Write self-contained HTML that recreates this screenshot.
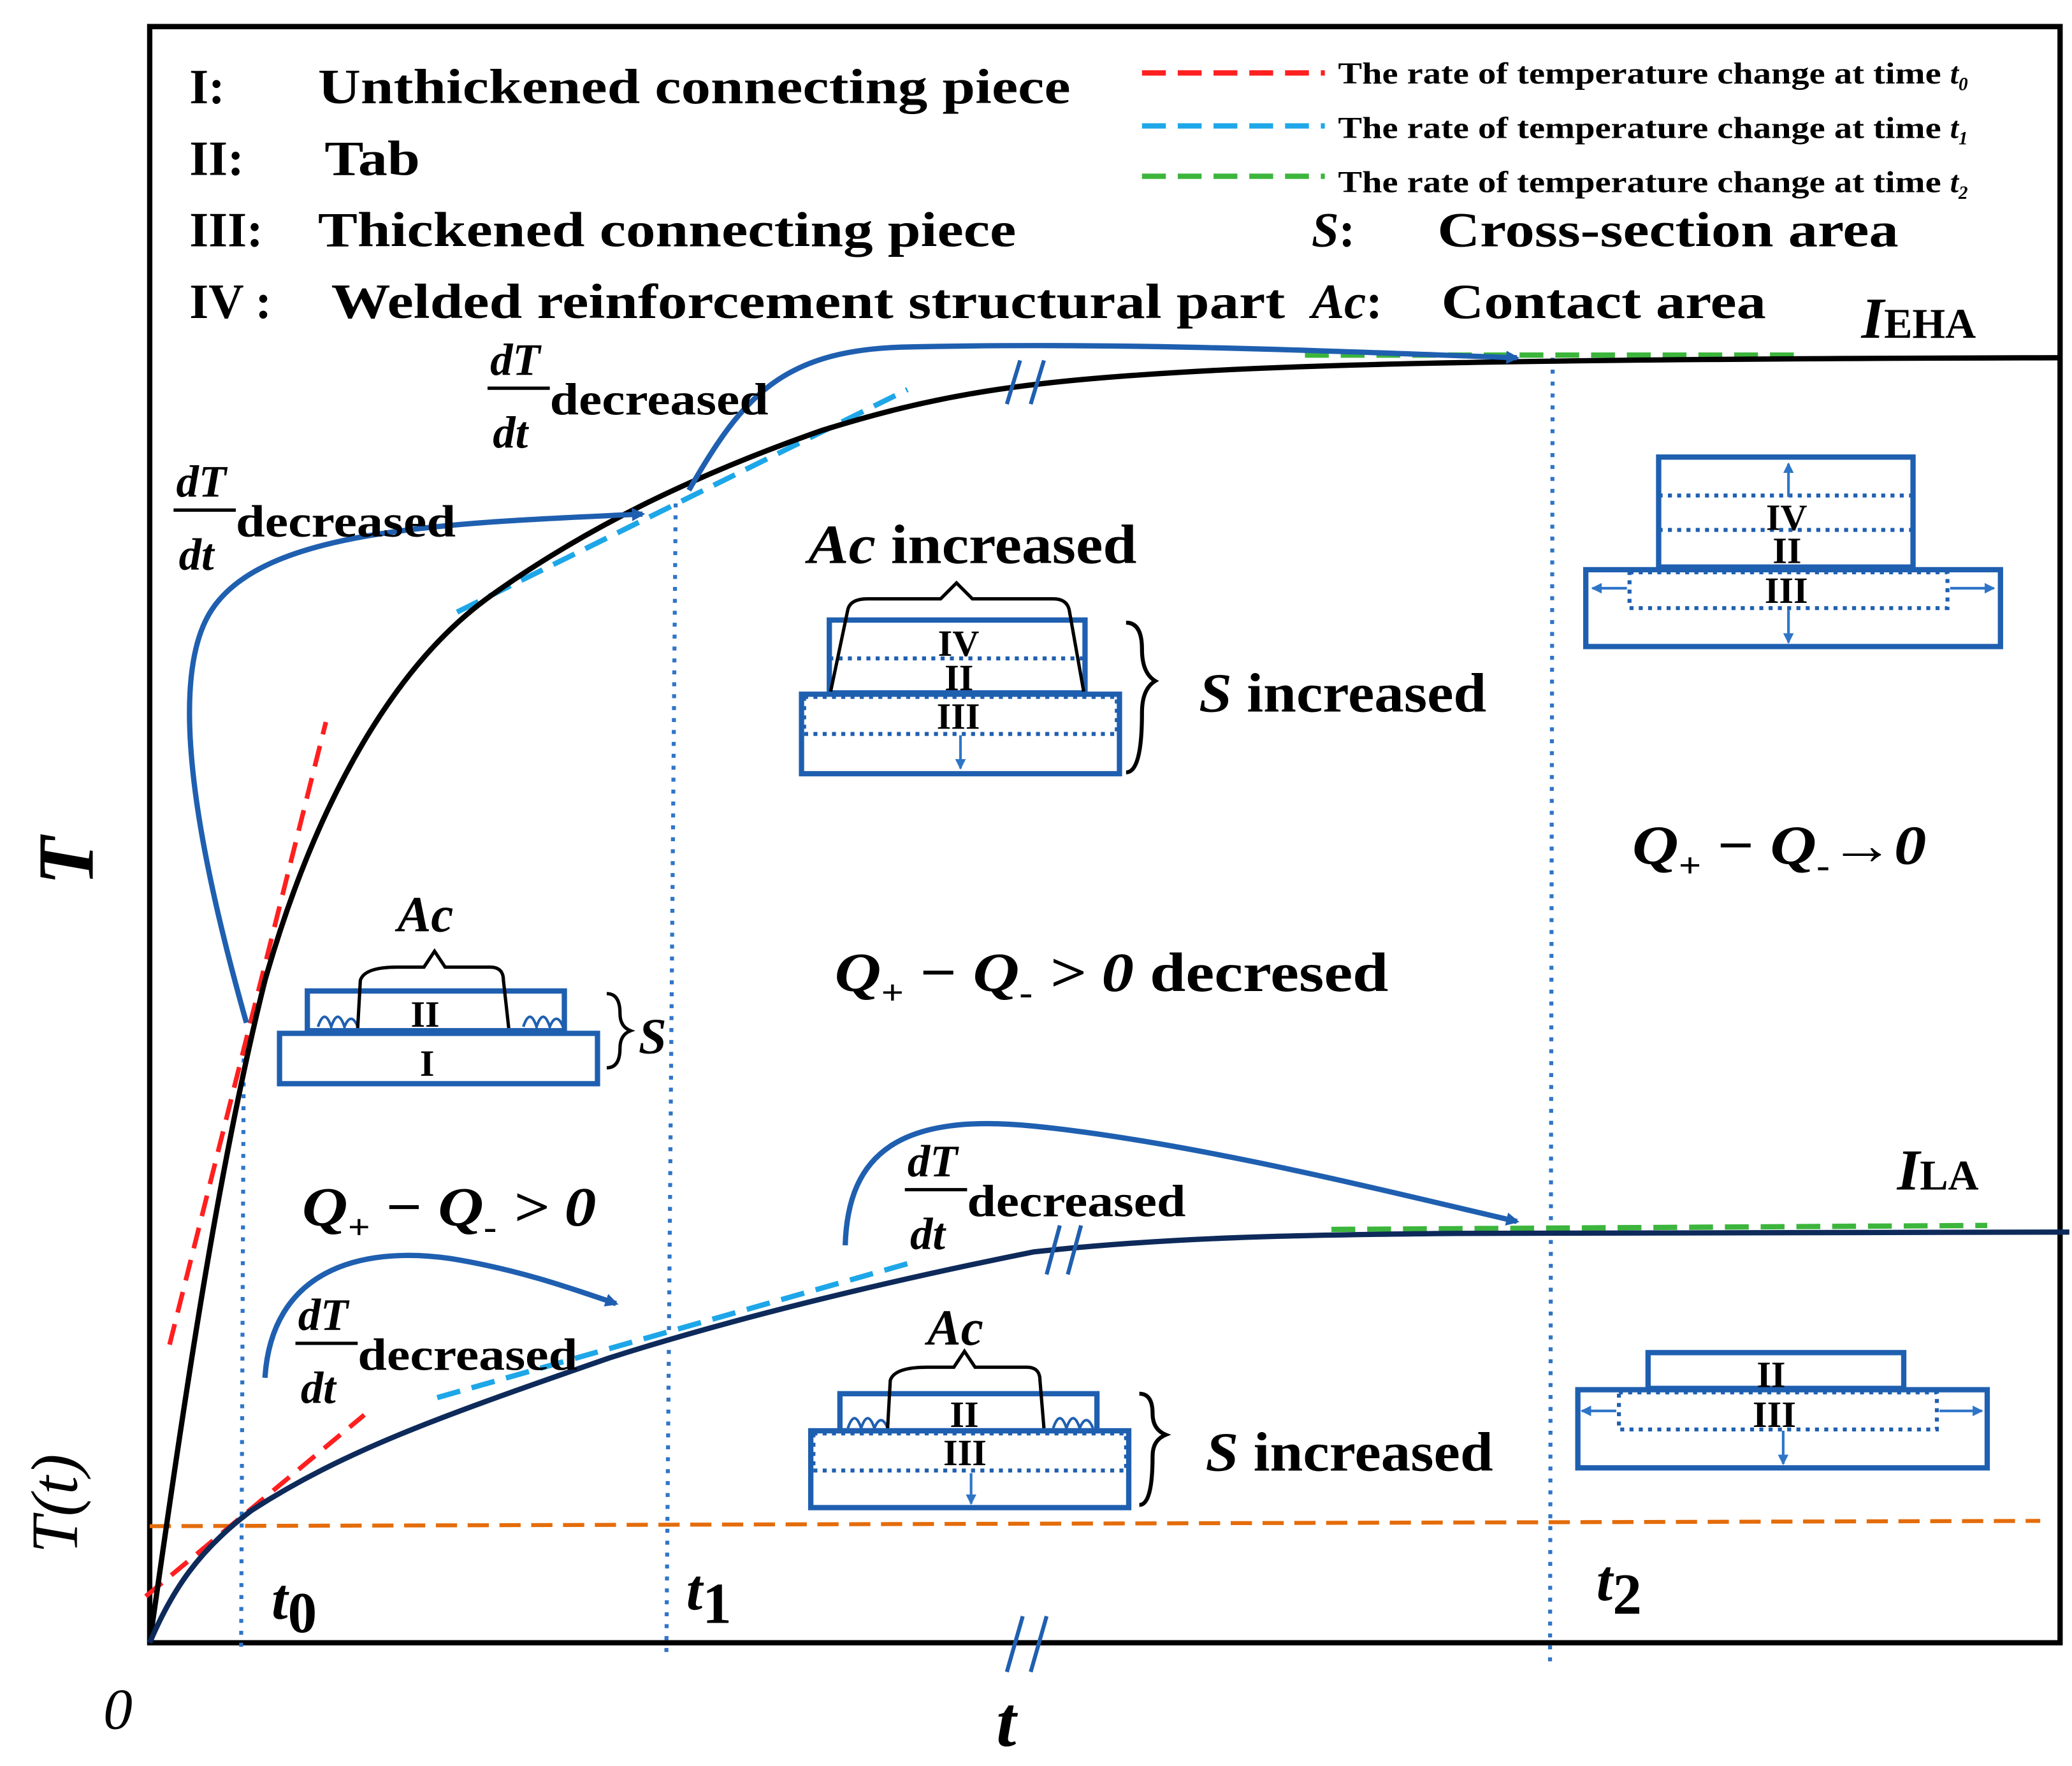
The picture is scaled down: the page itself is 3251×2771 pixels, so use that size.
<!DOCTYPE html>
<html><head><meta charset="utf-8"><style>
html,body{margin:0;padding:0;background:#fff}
svg{display:block}
text{font-family:"Liberation Serif",serif;font-weight:bold}
text.n{font-weight:normal}
</style></head><body>
<svg width="3251" height="2771" viewBox="0 0 1564 1333" xmlns="http://www.w3.org/2000/svg">
<defs>
<marker id="ah" markerWidth="10" markerHeight="10" refX="8" refY="5" orient="auto" markerUnits="userSpaceOnUse"><path d="M0,0 L10,5 L0,10 z" fill="#1f5fb0"/></marker>
<marker id="sa" markerWidth="8" markerHeight="8" refX="7" refY="4" orient="auto" markerUnits="userSpaceOnUse"><path d="M0,0 L8,4 L0,8 z" fill="#2e75c8"/></marker>
</defs>
<rect width="1564" height="1333" fill="#fff"/>
<path d="M113,20 L1555,20 L1555,1240 L113,1240 Z" fill="none" stroke="#000" stroke-width="4"/>
<line x1="113" y1="1152" x2="1540" y2="1148" stroke="#e46c0a" stroke-width="3" stroke-dasharray="16,8"/>
<g stroke="#2e75c8" stroke-width="3" stroke-dasharray="3,6">
<line x1="184" y1="790" x2="182" y2="1248"/>
<line x1="510" y1="380" x2="503" y2="1248"/>
<line x1="1172" y1="270" x2="1170" y2="1255"/>
</g>
<g stroke="#ff1f1f" stroke-width="3.5" stroke-dasharray="16,9" fill="none">
<line x1="128" y1="1015" x2="246" y2="545"/>
<line x1="110" y1="1205" x2="275" y2="1068"/>
</g>
<g stroke="#1ea7e8" stroke-width="4" stroke-dasharray="18,9">
<line x1="345" y1="462" x2="685" y2="294"/>
<line x1="330" y1="1055" x2="688" y2="953"/>
</g>
<g stroke="#3cb53c" stroke-width="4" stroke-dasharray="18,9">
<line x1="985" y1="268" x2="1362" y2="268"/>
<line x1="1005" y1="928" x2="1500" y2="925"/>
</g>
<path d="M113,1240 C140,1050 165,880 200,740 C240,600 300,500 370,450 C440,400 520,360 620,325 C700,300 760,290 860,283 C960,276 1100,271 1555,270" fill="none" stroke="#000" stroke-width="4"/>
<path d="M113,1240 C130,1200 150,1170 190,1140 C260,1095 330,1070 460,1025 C560,993 680,965 780,945 C880,934 980,932 1100,931 L1562,930" fill="none" stroke="#0d2a5a" stroke-width="4"/>
<g stroke="#1f5fb0" stroke-width="3">
<line x1="760" y1="305" x2="770" y2="272"/><line x1="778" y1="305" x2="788" y2="272"/>
<line x1="790" y1="962" x2="800" y2="925"/><line x1="806" y1="962" x2="816" y2="925"/>
<line x1="760" y1="1262" x2="772" y2="1220"/><line x1="778" y1="1262" x2="790" y2="1220"/>
</g>
<g stroke="#1f5fb0" stroke-width="4" fill="none" marker-end="url(#ah)">
<path d="M186,772 C160,680 120,520 160,460 C200,400 330,395 485,388"/>
<path d="M520,370 C560,300 590,265 680,262 C850,258 1000,265 1145,270"/>
<path d="M638,940 C640,870 680,840 780,850 C900,862 1050,900 1145,922"/>
<path d="M200,1040 C205,960 270,940 340,950 C390,958 430,972 465,984"/>
</g>
<g font-size="37" fill="#000">
<text x="143" y="78">I:</text><text x="240" y="78" textLength="568" lengthAdjust="spacingAndGlyphs">Unthickened connecting piece</text>
<text x="143" y="132">II:</text><text x="245" y="132" textLength="72" lengthAdjust="spacingAndGlyphs">Tab</text>
<text x="143" y="186">III:</text><text x="240" y="186" textLength="527" lengthAdjust="spacingAndGlyphs">Thickened connecting piece</text>
<text x="143" y="240">IV :</text><text x="250" y="240" textLength="720" lengthAdjust="spacingAndGlyphs">Welded reinforcement structural part</text>
<text x="990" y="186"><tspan font-style="italic">S</tspan>:</text><text x="1085" y="186" textLength="348" lengthAdjust="spacingAndGlyphs">Cross-section area</text>
<text x="990" y="240"><tspan font-style="italic">Ac</tspan>:</text><text x="1088" y="240" textLength="245" lengthAdjust="spacingAndGlyphs">Contact area</text>
</g>
<g stroke-width="4" stroke-dasharray="18,9">
<line x1="862" y1="55" x2="1000" y2="55" stroke="#ff1f1f"/>
<line x1="862" y1="95" x2="1000" y2="95" stroke="#1ea7e8"/>
<line x1="862" y1="133" x2="1000" y2="133" stroke="#3cb53c"/>
</g>
<g font-size="23" fill="#000">
<text x="1010" y="63"><tspan textLength="462" lengthAdjust="spacingAndGlyphs">The rate of temperature change at time </tspan><tspan font-style="italic">t</tspan><tspan font-size="14" font-style="italic" dy="5">0</tspan></text>
<text x="1010" y="104"><tspan textLength="462" lengthAdjust="spacingAndGlyphs">The rate of temperature change at time </tspan><tspan font-style="italic">t</tspan><tspan font-size="14" font-style="italic" dy="5">1</tspan></text>
<text x="1010" y="145"><tspan textLength="462" lengthAdjust="spacingAndGlyphs">The rate of temperature change at time </tspan><tspan font-style="italic">t</tspan><tspan font-size="14" font-style="italic" dy="5">2</tspan></text>
</g>
<text x="1405" y="255" font-size="44" font-style="italic">I<tspan font-size="32" font-style="normal">EHA</tspan></text>
<text x="1432" y="898" font-size="44" font-style="italic">I<tspan font-size="32" font-style="normal">LA</tspan></text>
<g font-size="34">
<text x="370" y="283" font-style="italic">dT</text><line x1="368" y1="293" x2="415" y2="293" stroke="#000" stroke-width="2.5"/><text x="372" y="338" font-style="italic">dt</text><text x="415" y="313" textLength="165" lengthAdjust="spacingAndGlyphs">decreased</text>
<text x="133" y="375" font-style="italic">dT</text><line x1="131" y1="385" x2="178" y2="385" stroke="#000" stroke-width="2.5"/><text x="135" y="430" font-style="italic">dt</text><text x="178" y="405" textLength="166" lengthAdjust="spacingAndGlyphs">decreased</text>
<text x="685" y="888" font-style="italic">dT</text><line x1="683" y1="898" x2="730" y2="898" stroke="#000" stroke-width="2.5"/><text x="687" y="943" font-style="italic">dt</text><text x="730" y="918" textLength="165" lengthAdjust="spacingAndGlyphs">decreased</text>
<text x="225" y="1004" font-style="italic">dT</text><line x1="223" y1="1014" x2="270" y2="1014" stroke="#000" stroke-width="2.5"/><text x="227" y="1059" font-style="italic">dt</text><text x="270" y="1034" textLength="166" lengthAdjust="spacingAndGlyphs">decreased</text>
</g>
<g font-size="42">
<text x="630" y="748" textLength="418" lengthAdjust="spacingAndGlyphs"><tspan font-style="italic">Q</tspan><tspan font-size="26" dy="10">+</tspan><tspan dy="-10"> − </tspan><tspan font-style="italic">Q</tspan><tspan font-size="26" dy="10">-</tspan><tspan dy="-10" font-style="italic"> &gt; 0</tspan> decresed</text>
<text x="1232" y="652" textLength="222" lengthAdjust="spacingAndGlyphs"><tspan font-style="italic">Q</tspan><tspan font-size="26" dy="10">+</tspan><tspan dy="-10"> − </tspan><tspan font-style="italic">Q</tspan><tspan font-size="26" dy="10">-</tspan><tspan dy="-10" font-style="italic">→0</tspan></text>
<text x="228" y="925" textLength="222" lengthAdjust="spacingAndGlyphs"><tspan font-style="italic">Q</tspan><tspan font-size="26" dy="10">+</tspan><tspan dy="-10"> − </tspan><tspan font-style="italic">Q</tspan><tspan font-size="26" dy="10">-</tspan><tspan dy="-10" font-style="italic"> &gt; 0</tspan></text>
<text x="610" y="425" textLength="248" lengthAdjust="spacingAndGlyphs"><tspan font-style="italic">Ac</tspan> increased</text>
<text x="905" y="537" textLength="217" lengthAdjust="spacingAndGlyphs"><tspan font-style="italic">S</tspan> increased</text>
<text x="910" y="1110" textLength="217" lengthAdjust="spacingAndGlyphs"><tspan font-style="italic">S</tspan> increased</text>
</g>
<text x="70" y="650" font-size="60" font-style="italic" transform="rotate(-90 70 650)" text-anchor="middle">T</text>
<text class="n" x="58" y="1135" font-size="50" font-style="italic" transform="rotate(-90 58 1135)" text-anchor="middle">T(t)</text>
<text class="n" x="78" y="1305" font-size="44" font-style="italic">0</text>
<text x="752" y="1318" font-size="54" font-style="italic">t</text>
<text x="205" y="1222" font-size="44" font-style="italic">t<tspan font-style="normal" dy="10">0</tspan></text>
<text x="518" y="1215" font-size="44" font-style="italic">t<tspan font-style="normal" dy="10">1</tspan></text>
<text x="1205" y="1208" font-size="44" font-style="italic">t<tspan font-style="normal" dy="10">2</tspan></text>
<g stroke="#1f5fb0" stroke-width="4" fill="none">
<rect x="232" y="748" width="194" height="30"/>
<rect x="211" y="780" width="240" height="38"/>
</g>
<path d="M240,775 q5,-15 10,0 q5,-15 10,0 q5,-12 10,0 M395,775 q5,-15 10,0 q5,-15 10,0 q5,-12 10,0" stroke="#1f5fb0" stroke-width="2" fill="none"/>
<path d="M270,776 L272,740 Q275,730 300,730 L320,730 L328,718 L336,730 L370,730 Q380,730 380,740 L384,776" stroke="#000" stroke-width="2.5" fill="none"/>
<text x="310" y="775" font-size="28">II</text><text x="317" y="812" font-size="28">I</text>
<text x="300" y="703" font-size="38" font-style="italic">Ac</text>
<path d="M458,750 q10,0 10,15 q0,10 8,13 q-8,3 -8,13 q0,15 -10,15" stroke="#000" stroke-width="2.5" fill="none"/>
<text x="482" y="795" font-size="38" font-style="italic">S</text>
<g stroke="#1f5fb0" stroke-width="4" fill="none">
<rect x="626" y="468" width="193" height="55"/>
<rect x="605" y="524" width="240" height="60"/>
</g>
<g stroke="#1f5fb0" stroke-width="3" stroke-dasharray="3,4" fill="none">
<line x1="626" y1="497" x2="819" y2="497"/>
<rect x="607" y="526" width="236" height="28"/>
</g>
<line x1="725" y1="555" x2="725" y2="580" stroke="#2e75c8" stroke-width="2" marker-end="url(#sa)"/>
<path d="M627,522 L640,460 Q642,452 655,452 L710,452 L722,440 L734,452 L795,452 Q805,452 807,460 L818,522" stroke="#000" stroke-width="2.5" fill="none"/>
<text x="708" y="495" font-size="28">IV</text><text x="713" y="521" font-size="28">II</text><text x="707" y="550" font-size="28">III</text>
<path d="M850,470 q12,0 12,20 q0,18 10,24 q-10,6 -10,24 q0,45 -12,45" stroke="#000" stroke-width="3" fill="none"/>
<g stroke="#1f5fb0" stroke-width="4" fill="none">
<rect x="1252" y="345" width="192" height="83"/>
<rect x="1197" y="430" width="313" height="58"/>
</g>
<g stroke="#1f5fb0" stroke-width="3" stroke-dasharray="3,4" fill="none">
<line x1="1252" y1="374" x2="1444" y2="374"/><line x1="1252" y1="400" x2="1444" y2="400"/>
<rect x="1230" y="432" width="240" height="27"/>
</g>
<g stroke="#2e75c8" stroke-width="2" marker-end="url(#sa)">
<line x1="1350" y1="375" x2="1350" y2="350"/><line x1="1350" y1="460" x2="1350" y2="485"/>
<line x1="1228" y1="444" x2="1202" y2="444"/><line x1="1472" y1="444" x2="1505" y2="444"/>
</g>
<text x="1333" y="400" font-size="28">IV</text><text x="1338" y="425" font-size="28">II</text><text x="1332" y="455" font-size="28">III</text>
<g stroke="#1f5fb0" stroke-width="4" fill="none">
<rect x="634" y="1052" width="194" height="28"/>
<rect x="612" y="1080" width="240" height="58"/>
</g>
<g stroke="#1f5fb0" stroke-width="3" stroke-dasharray="3,4" fill="none">
<rect x="614" y="1082" width="236" height="28"/>
</g>
<path d="M640,1078 q5,-15 10,0 q5,-15 10,0 q5,-12 10,0 M795,1078 q5,-15 10,0 q5,-15 10,0 q5,-12 10,0" stroke="#1f5fb0" stroke-width="2" fill="none"/>
<line x1="733" y1="1112" x2="733" y2="1135" stroke="#2e75c8" stroke-width="2" marker-end="url(#sa)"/>
<path d="M670,1078 L672,1042 Q675,1032 700,1032 L720,1032 L728,1020 L736,1032 L775,1032 Q785,1032 785,1042 L788,1078" stroke="#000" stroke-width="2.5" fill="none"/>
<text x="717" y="1077" font-size="28">II</text><text x="712" y="1106" font-size="28">III</text>
<text x="700" y="1015" font-size="38" font-style="italic">Ac</text>
<path d="M860,1052 q10,0 10,15 q0,12 10,16 q-10,4 -10,16 q0,37 -10,37" stroke="#000" stroke-width="3" fill="none"/>
<g stroke="#1f5fb0" stroke-width="4" fill="none">
<rect x="1244" y="1021" width="193" height="27"/>
<rect x="1191" y="1049" width="309" height="59"/>
</g>
<g stroke="#1f5fb0" stroke-width="3" stroke-dasharray="3,4" fill="none">
<rect x="1222" y="1051" width="240" height="28"/>
</g>
<g stroke="#2e75c8" stroke-width="2" marker-end="url(#sa)">
<line x1="1346" y1="1080" x2="1346" y2="1105"/>
<line x1="1220" y1="1065" x2="1194" y2="1065"/><line x1="1464" y1="1065" x2="1496" y2="1065"/>
</g>
<text x="1326" y="1047" font-size="28">II</text><text x="1323" y="1077" font-size="28">III</text>
</svg>
</body></html>
